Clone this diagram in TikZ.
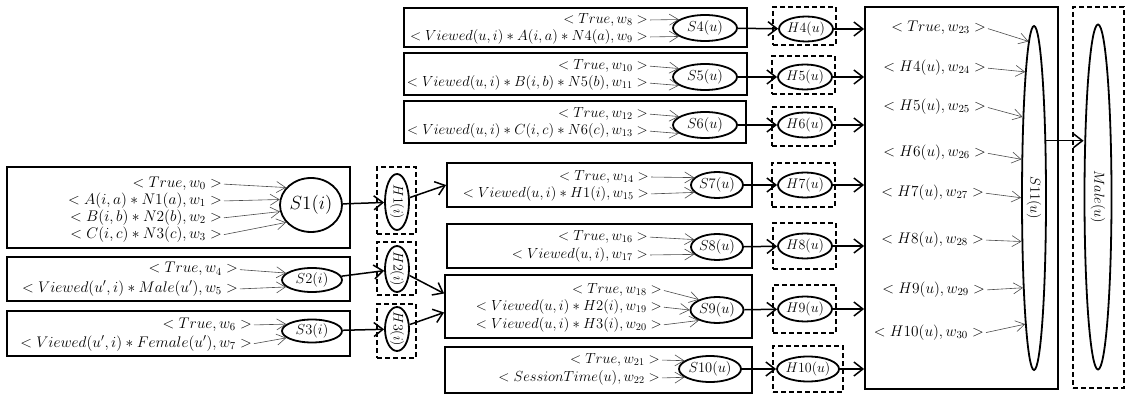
\documentclass[tikz,border=0pt]{standalone}
\usetikzlibrary{arrows.meta,shapes.geometric}
% scalable math fonts, so that any \fontsize is honoured exactly
\DeclareFontShape{OML}{cmm}{m}{it}{<-6>cmmi5 <6-8>cmmi7 <8-11>cmmi10 <11->cmmi12}{}
\DeclareFontShape{OMS}{cmsy}{m}{n}{<-6>cmsy5 <6-8>cmsy7 <8->cmsy10}{}
\DeclareFontShape{OT1}{cmr}{m}{n}{<-6>cmr5 <6-8>cmr7 <8-11>cmr10 <11->cmr12}{}
\begin{document}
\begin{tikzpicture}[x=1pt,y=-1pt,
  box/.style={draw, line width=1.8pt, inner sep=0pt},
  hbox/.style={draw, line width=1.8pt, dash pattern=on 5pt off 3pt, inner sep=0pt},
  ell/.style={draw, ellipse, line width=1.8pt, inner sep=0pt},
  lbl/.style={anchor=east, inner sep=0pt, text height=10pt, text depth=3.5pt,
    font=\fontsize{15.4}{18}\selectfont},
  mlbl/.style={lbl, font=\fontsize{14.6}{18}\selectfont},
  sfont/.style={font=\fontsize{14.5}{18}\selectfont},
  hfont/.style={font=\fontsize{14}{16}\selectfont},
  feed/.style={draw=black!70, line width=0.6pt, shorten <=2pt,
    -{Straight Barb[length=9pt,width=11pt]}},
  link/.style={line width=1.5pt, -{Straight Barb[length=9pt,width=14pt]}},
]
\useasboundingbox (0,0) rectangle (1127,395);

% ---------- left column: item-level clauses ----------
\node[box, minimum width=343pt, minimum height=81pt] (b1) at (178.5,207.5) {};
\node[box, minimum width=343pt, minimum height=44pt] (b2) at (178.5,279) {};
\node[box, minimum width=343pt, minimum height=45pt] (b3) at (178.5,333.5) {};

\node[lbl] (t0) at (222,184) {$<True, w_0>$};
\node[lbl] (t1) at (222,201) {$<A(i,a)\ast N1(a), w_1>$};
\node[lbl] (t2) at (222,218) {$<B(i,b)\ast N2(b), w_2>$};
\node[lbl] (t3) at (222,235) {$<C(i,c)\ast N3(c), w_3>$};
\node[lbl] (t4) at (238,269.5) {$<True, w_4>$};
\node[lbl] (t5) at (238,289) {$<Viewed(u',i)\ast Male(u'), w_5>$};
\node[lbl] (t6) at (252,325) {$<True, w_6>$};
\node[lbl] (t7) at (252,344) {$<Viewed(u',i)\ast Female(u'), w_7>$};

\node[ell, minimum width=62pt, minimum height=54pt,
  label={[font=\fontsize{19}{22}\selectfont]center:$S1(i)$}] (s1) at (311,205) {};
\node[ell, minimum width=60pt, minimum height=24pt,
  label={[sfont]center:$S2(i)$}] (s2) at (312,280) {};
\node[ell, minimum width=60pt, minimum height=23pt,
  label={[sfont]center:$S3(i)$}] (s3) at (312,331) {};

% hidden item nodes
\node[hbox, minimum width=39pt, minimum height=67pt] (hb1) at (396.5,200.5) {};
\node[hbox, minimum width=39pt, minimum height=53pt] (hb2) at (396.5,268.5) {};
\node[hbox, minimum width=39pt, minimum height=54pt] (hb3) at (396.5,331) {};
\node[ell, minimum width=24pt, minimum height=56pt,
  label={[hfont]center:\rotatebox{-90}{$H1(i)$}}] (h1) at (397,202) {};
\node[ell, minimum width=24pt, minimum height=46pt,
  label={[hfont]center:\rotatebox{-90}{$H2(i)$}}] (h2) at (397,269) {};
\node[ell, minimum width=24pt, minimum height=44pt,
  label={[hfont]center:\rotatebox{-90}{$H3(i)$}}] (h3) at (397,329) {};

\draw[feed] (t0.east) -- (s1.145);
\draw[feed] (t1.east) -- (s1.170);
\draw[feed] (t2.east) -- (s1.192);
\draw[feed] (t3.east) -- (s1.215);
\draw[feed] (t4.east) -- (s2.165);
\draw[feed] (t5.east) -- (s2.195);
\draw[feed] (t6.east) -- (s3.165);
\draw[feed] (t7.east) -- (s3.195);

\draw[link] (s1) -- (h1);
\draw[link] (s2) -- (h2);
\draw[link] (s3) -- (h3);

% ---------- middle column: user-level clauses ----------
\node[box, minimum width=343pt, minimum height=39pt] (b4) at (575.5,27.5) {};
\node[box, minimum width=343pt, minimum height=42pt] (b5) at (575.5,74) {};
\node[box, minimum width=342pt, minimum height=42pt] (b6) at (575,122) {};
\node[box, minimum width=305pt, minimum height=44pt] (b7) at (599.5,185) {};
\node[box, minimum width=305pt, minimum height=44pt] (b8) at (599.5,246) {};
\node[box, minimum width=307pt, minimum height=63pt] (b9) at (598.5,306.5) {};
\node[box, minimum width=307pt, minimum height=46pt] (b10) at (598.5,370) {};

\node[mlbl] (t8)  at (648,20)  {$<True, w_8>$};
\node[mlbl] (t9)  at (648,37)  {$<Viewed(u,i)\ast A(i,a)\ast N4(a), w_9>$};
\node[mlbl] (t10) at (648,66)  {$<True, w_{10}>$};
\node[mlbl] (t11) at (648,83)  {$<Viewed(u,i)\ast B(i,b)\ast N5(b), w_{11}>$};
\node[mlbl] (t12) at (648,114) {$<True, w_{12}>$};
\node[mlbl] (t13) at (648,131) {$<Viewed(u,i)\ast C(i,c)\ast N6(c), w_{13}>$};
\node[mlbl] (t14) at (649,177) {$<True, w_{14}>$};
\node[mlbl] (t15) at (649,194) {$<Viewed(u,i)\ast H1(i), w_{15}>$};
\node[mlbl] (t16) at (648,237) {$<True, w_{16}>$};
\node[mlbl] (t17) at (648,255) {$<Viewed(u,i), w_{17}>$};
\node[mlbl] (t18) at (662,290) {$<True, w_{18}>$};
\node[mlbl] (t19) at (662,307) {$<Viewed(u,i)\ast H2(i), w_{19}>$};
\node[mlbl] (t20) at (662,325) {$<Viewed(u,i)\ast H3(i), w_{20}>$};
\node[mlbl] (t21) at (660,360) {$<True, w_{21}>$};
\node[mlbl] (t22) at (660,378) {$<SessionTime(u), w_{22}>$};

\node[ell, minimum width=64pt, minimum height=26pt, label={[sfont]center:$S4(u)$}]  (s4)  at (705,28)  {};
\node[ell, minimum width=64pt, minimum height=26pt, label={[sfont]center:$S5(u)$}]  (s5)  at (705,77)  {};
\node[ell, minimum width=64pt, minimum height=26pt, label={[sfont]center:$S6(u)$}]  (s6)  at (705,125) {};
\node[ell, minimum width=52pt, minimum height=26pt, label={[sfont]center:$S7(u)$}]  (s7)  at (717,185) {};
\node[ell, minimum width=52pt, minimum height=26pt, label={[sfont]center:$S8(u)$}]  (s8)  at (717,247) {};
\node[ell, minimum width=53pt, minimum height=26pt, label={[sfont]center:$S9(u)$}]  (s9)  at (717,310) {};
\node[ell, minimum width=62pt, minimum height=26pt, label={[sfont]center:$S10(u)$}] (s10) at (710,369) {};

\draw[feed] (t8.east)  -- (s4.162);
\draw[feed] (t9.east)  -- (s4.198);
\draw[feed] (t10.east) -- (s5.162);
\draw[feed] (t11.east) -- (s5.198);
\draw[feed] (t12.east) -- (s6.162);
\draw[feed] (t13.east) -- (s6.198);
\draw[feed] (t14.east) -- (s7.162);
\draw[feed] (t15.east) -- (s7.198);
\draw[feed] (t16.east) -- (s8.162);
\draw[feed] (t17.east) -- (s8.198);
\draw[feed] (t18.east) -- (s9.150);
\draw[feed] (t19.east) -- (s9.180);
\draw[feed] (t20.east) -- (s9.210);
\draw[feed] (t21.east) -- (s10.162);
\draw[feed] (t22.east) -- (s10.198);

\draw[link] (h1) -- (b7.west);
\draw[link] (h2) -- ([yshift=13pt]b9.west);
\draw[link] (h3) -- ([yshift=-6pt]b9.west);

% hidden user nodes
\node[hbox, minimum width=63pt, minimum height=38pt] (hb4)  at (804.5,26)   {};
\node[hbox, minimum width=63pt, minimum height=38pt] (hb5)  at (803.5,75)   {};
\node[hbox, minimum width=63pt, minimum height=39pt] (hb6)  at (803.5,126.5) {};
\node[hbox, minimum width=63pt, minimum height=44pt] (hb7)  at (803.5,185)  {};
\node[hbox, minimum width=63pt, minimum height=46pt] (hb8)  at (804.5,246)  {};
\node[hbox, minimum width=63pt, minimum height=48pt] (hb9)  at (804.5,309)  {};
\node[hbox, minimum width=70pt, minimum height=46pt] (hb10) at (808,369)    {};

\node[ell, minimum width=54pt, minimum height=25pt, label={[hfont]center:$H4(u)$}]  (h4)  at (806,29)  {};
\node[ell, minimum width=54pt, minimum height=25pt, label={[hfont]center:$H5(u)$}]  (h5)  at (805,77)  {};
\node[ell, minimum width=54pt, minimum height=25pt, label={[hfont]center:$H6(u)$}]  (h6)  at (805,125) {};
\node[ell, minimum width=54pt, minimum height=25pt, label={[hfont]center:$H7(u)$}]  (h7)  at (805,185) {};
\node[ell, minimum width=54pt, minimum height=25pt, label={[hfont]center:$H8(u)$}]  (h8)  at (805,246) {};
\node[ell, minimum width=54pt, minimum height=25pt, label={[hfont]center:$H9(u)$}]  (h9)  at (805,309) {};
\node[ell, minimum width=62pt, minimum height=25pt, label={[hfont]center:$H10(u)$}] (h10) at (808,369) {};

\draw[link] (s4) -- (h4);
\draw[link] (s5) -- (h5);
\draw[link] (s6) -- (h6);
\draw[link] (s7) -- (h7);
\draw[link] (s8) -- (h8);
\draw[link] (s9) -- (h9);
\draw[link] (s10) -- (h10);

% ---------- right column: final clause and query ----------
\node[box, minimum width=193pt, minimum height=382pt] (b11) at (961.5,198) {};
\node[hbox, minimum width=51pt, minimum height=381pt] (hbm) at (1098.5,197.5) {};

\node[lbl] (t23) at (986,28)  {$<True, w_{23}>$};
\node[lbl] (t24) at (986,68)  {$<H4(u), w_{24}>$};
\node[lbl] (t25) at (986,107) {$<H5(u), w_{25}>$};
\node[lbl] (t26) at (986,153) {$<H6(u), w_{26}>$};
\node[lbl] (t27) at (984,193) {$<H7(u), w_{27}>$};
\node[lbl] (t28) at (984,240) {$<H8(u), w_{28}>$};
\node[lbl] (t29) at (985,290) {$<H9(u), w_{29}>$};
\node[lbl] (t30) at (984,333) {$<H10(u), w_{30}>$};

\node[ell, minimum width=24pt, minimum height=344pt,
  label={[sfont]center:\rotatebox{-90}{$S11(u)$}}] (s11) at (1034,198) {};
\node[ell, minimum width=27pt, minimum height=345pt,
  label={[sfont]center:\rotatebox{-90}{$Male(u)$}}] (male) at (1098,197) {};

\draw[feed] (t23.east) -- (s11.92);
\draw[feed] (t24.east) -- (s11.94.6);
\draw[feed] (t25.east) -- (s11.98);
\draw[feed] (t26.east) -- (s11.108.5);
\draw[feed] (t27.east) -- (s11.179);
\draw[feed] (t28.east) -- (s11.254.5);
\draw[feed] (t29.east) -- (s11.263);
\draw[feed] (t30.east) -- (s11.266.5);

\draw[link] (h4)  -- (h4 -| b11.west);
\draw[link] (h5)  -- (h5 -| b11.west);
\draw[link] (h6)  -- (h6 -| b11.west);
\draw[link] (h7)  -- (h7 -| b11.west);
\draw[link] (h8)  -- (h8 -| b11.west);
\draw[link] (h9)  -- (h9 -| b11.west);
\draw[link] (h10) -- (h10 -| b11.west);

\draw[link] (s11.78) -- (s11.78 -| male.west);
\end{tikzpicture}
\end{document}
